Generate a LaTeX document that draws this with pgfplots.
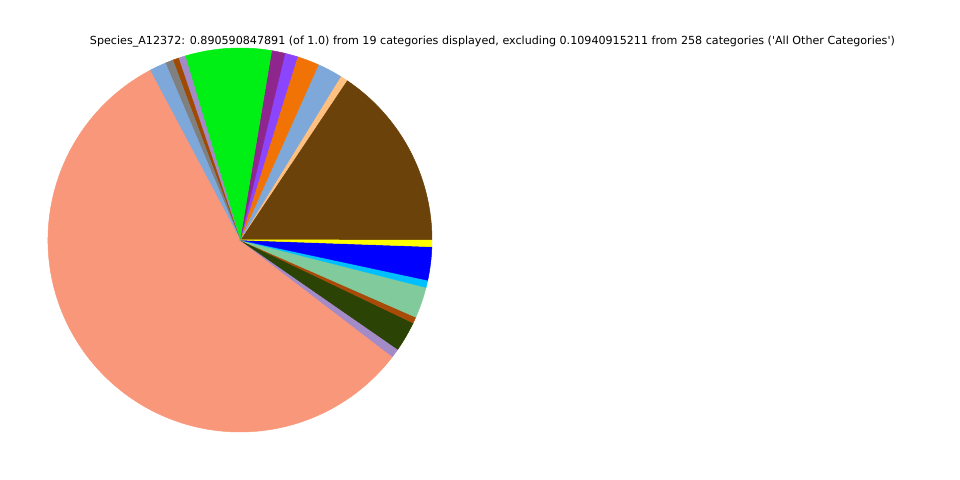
\documentclass[border=0pt]{standalone}
\usepackage{fontspec}
\setmainfont{DejaVu Sans}
\usepackage{pgfplots}
\usepackage{pgfplotstable}
\pgfplotsset{compat=1.18}
\usepgfplotslibrary{polar}

\definecolor{c1}{HTML}{6B420A}
\definecolor{c2}{HTML}{FFC080}
\definecolor{c3}{HTML}{7FA8DA}
\definecolor{c4}{HTML}{F27305}
\definecolor{c5}{HTML}{8B45FF}
\definecolor{c6}{HTML}{8E268E}
\definecolor{c7}{HTML}{00F015}
\definecolor{c8}{HTML}{A38BC8}
\definecolor{c9}{HTML}{A04900}
\definecolor{c10}{HTML}{808080}
\definecolor{c11}{HTML}{7FA8DA}
\definecolor{c12}{HTML}{F9977A}
\definecolor{c13}{HTML}{A38BC8}
\definecolor{c14}{HTML}{2B4304}
\definecolor{c15}{HTML}{A84B08}
\definecolor{c16}{HTML}{80CA9B}
\definecolor{c17}{HTML}{00BFFF}
\definecolor{c18}{HTML}{0000FF}
\definecolor{c19}{HTML}{FFFF00}

% fractions of the whole (displayed categories sum to ~0.8906)
\pgfplotstableread{
value color
0.13903 c1
0.00544 c2
0.01855 c3
0.01658 c4
0.00952 c5
0.01002 c6
0.06457 c7
0.00520 c8
0.00433 c9
0.00594 c10
0.01262 c11
0.50616 c12
0.00668 c13
0.02251 c14
0.00470 c15
0.02325 c16
0.00544 c17
0.02499 c18
0.00495 c19
}\piedata

\begin{document}
\begin{tikzpicture}[x=1pt,y=1pt]
\path[use as bounding box] (0,0) rectangle (480,240);
\xdef\total{0}
\pgfplotstableforeachcolumnelement{value}\of\piedata\as\v{%
  \pgfmathsetmacro\t{\total+\v}\xdef\total{\t}}
\begin{polaraxis}[hide axis, scale only axis, width=192pt, height=192pt,
  xmin=0, xmax=360, ymin=0, ymax=1, anchor=center, at={(120pt,120pt)},
  clip=false]
\xdef\cum{0}
\pgfplotsforeachungrouped \i in {0,...,18}{%
  \pgfplotstablegetelem{\i}{value}\of\piedata \let\v\pgfplotsretval
  \pgfplotstablegetelem{\i}{color}\of\piedata \let\c\pgfplotsretval
  \pgfmathsetmacro\a{\cum}%
  \pgfmathsetmacro\b{\cum+360*\v/\total}%
  \edef\temp{\noexpand\addplot[fill=\c, draw=\c, line width=0.25pt] coordinates {(0,0) (\a,1)} arc[start angle=\a, end angle=\b, radius=96pt] -- cycle;}%
  \temp
  \xdef\cum{\b}%
}
\end{polaraxis}
\node[inner sep=0pt] at (246.25,219.2) {\resizebox{402.5pt}{!}{Species\_A12372: 0.890590847891 (of 1.0) from 19 categories displayed, excluding 0.10940915211 from 258 categories (\textquotesingle All Other Categories\textquotesingle)}};
\end{tikzpicture}
\end{document}
